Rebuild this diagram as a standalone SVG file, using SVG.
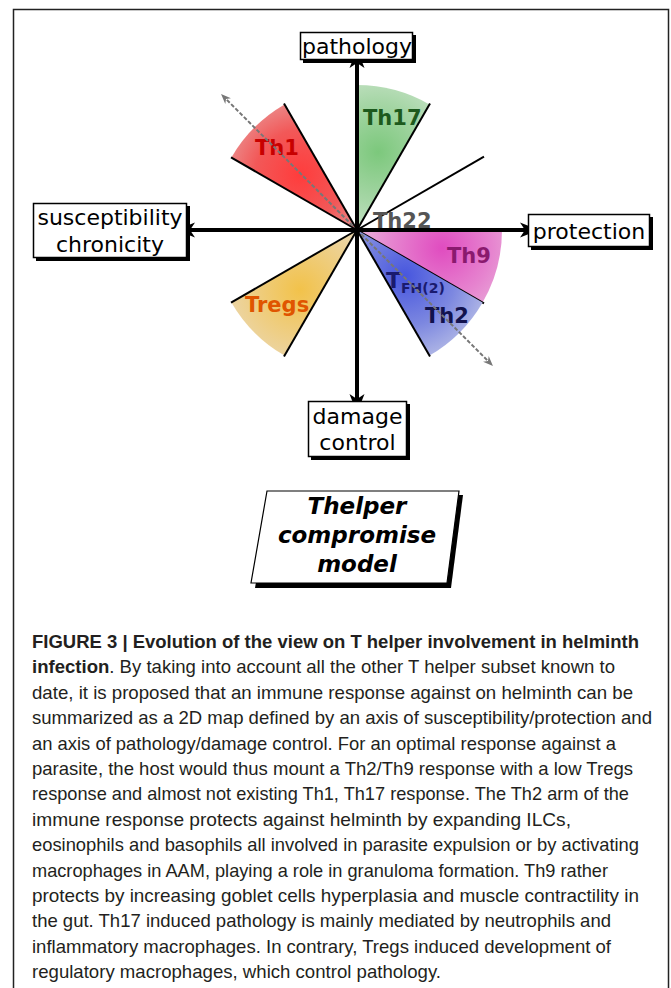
<svg xmlns="http://www.w3.org/2000/svg" width="671" height="988" viewBox="0 0 671 988">
<style>
.lbl{font-family:"DejaVu Sans",Verdana,sans-serif;font-size:22px;fill:#000;text-anchor:middle}
.box{fill:#fff;stroke:#000;stroke-width:1.5}
.shadow{fill:#000}
.sub{font-family:"DejaVu Sans",Verdana,sans-serif;font-weight:bold}
.edge{stroke:#000;stroke-width:2;fill:none}
.axis{stroke:#000;stroke-width:4;fill:none;marker-end:url(#bigArrow)}
.dash{stroke:#777;stroke-width:2;stroke-dasharray:4 2;fill:none;marker-end:url(#grayArrow)}
.cap{font-family:"Liberation Sans",Arial,sans-serif;font-size:18.5px;fill:#231f20}
.capb{font-weight:bold}
.model{font-family:"DejaVu Sans",Verdana,sans-serif;font-size:23px;font-weight:bold;font-style:italic;text-anchor:middle;fill:#000}
</style>
<defs>
<marker id="bigArrow" viewBox="-20 -9 22 18" refX="-14" refY="0" markerWidth="22" markerHeight="18" markerUnits="userSpaceOnUse" orient="auto">
<path d="M0,0 L-19,-7.5 L-14,0 L-19,7.5 Z" fill="#000"/>
</marker>
<marker id="grayArrow" viewBox="-12 -6 14 12" refX="-7" refY="0" markerWidth="14" markerHeight="12" markerUnits="userSpaceOnUse" orient="auto">
<path d="M0,0 L-10,-4 L-7,0 L-10,4 Z" fill="#777"/>
</marker>
<radialGradient id="gTh1" gradientUnits="userSpaceOnUse" cx="300" cy="175" r="100">
<stop offset="0" stop-color="#ff3c3c"/><stop offset="0.45" stop-color="#f25858"/><stop offset="1" stop-color="#e6b4b4"/>
</radialGradient>
<radialGradient id="gTh17" gradientUnits="userSpaceOnUse" cx="378" cy="152" r="100">
<stop offset="0" stop-color="#7cc87c"/><stop offset="0.5" stop-color="#a6d6a6"/><stop offset="1" stop-color="#d9ead9"/>
</radialGradient>
<radialGradient id="gTh9" gradientUnits="userSpaceOnUse" cx="442" cy="248" r="100">
<stop offset="0" stop-color="#e04cc0"/><stop offset="0.5" stop-color="#e684cf"/><stop offset="1" stop-color="#ebc6e0"/>
</radialGradient>
<radialGradient id="gTh2" gradientUnits="userSpaceOnUse" cx="405" cy="276" r="100">
<stop offset="0" stop-color="#4756de"/><stop offset="0.5" stop-color="#7c87e0"/><stop offset="1" stop-color="#c6cbe8"/>
</radialGradient>
<radialGradient id="gTregs" gradientUnits="userSpaceOnUse" cx="300" cy="290" r="100">
<stop offset="0" stop-color="#f2c24a"/><stop offset="0.5" stop-color="#eecf88"/><stop offset="1" stop-color="#e8ddcc"/>
</radialGradient>
</defs>

<rect x="13.5" y="9.5" width="655" height="1000" fill="#fff" stroke="#222" stroke-width="1.5"/>

<g id="sector-th17">
<path d="M357,230 L357,85 A145,145 0 0,1 429.5,104.4 Z" fill="url(#gTh17)"/>
<line class="edge" x1="357" y1="230" x2="430" y2="103.5"/>
<text class="sub" x="363" y="125" font-size="21" fill="#1d5a1d">Th17</text>
</g>
<g id="sector-th1">
<path d="M357,230 L284.5,104.4 A145,145 0 0,0 231.4,157.5 Z" fill="url(#gTh1)"/>
<line class="edge" x1="357" y1="230" x2="284" y2="103.5"/>
<line class="edge" x1="357" y1="230" x2="231" y2="157.3"/>
<text class="sub" x="255" y="155" font-size="21" fill="#c80000">Th1</text>
</g>
<g id="th22">
<line class="edge" x1="357" y1="230" x2="484" y2="156.7"/>
<text class="sub" x="373" y="228" font-size="21" fill="#555">Th22</text>
</g>
<g id="sector-th9">
<path d="M357,230 L502,230 A145,145 0 0,1 482.6,302.5 Z" fill="url(#gTh9)"/>
<line class="edge" x1="357" y1="230" x2="484" y2="303.3"/>
<text class="sub" x="447" y="263" font-size="21" fill="#8a1a6e">Th9</text>
</g>
<g id="sector-th2">
<path d="M357,230 L482.6,302.5 A145,145 0 0,1 429.5,355.6 Z" fill="url(#gTh2)"/>
<line class="edge" x1="357" y1="230" x2="430" y2="356.4"/>
<text class="sub" x="386" y="288" font-size="22" fill="#1a1a6e">T<tspan font-size="14" dy="5">FH(2)</tspan></text>
<text class="sub" x="425" y="323" font-size="21" fill="#12124e">Th2</text>
</g>
<g id="sector-tregs">
<path d="M357,230 L231.4,302.5 A145,145 0 0,0 284.5,355.6 Z" fill="url(#gTregs)"/>
<line class="edge" x1="357" y1="230" x2="231" y2="302.7"/>
<line class="edge" x1="357" y1="230" x2="284" y2="356.4"/>
<text class="sub" x="245" y="312" font-size="21" fill="#e05500">Tregs</text>
</g>

<g id="connectors">
<line class="dash" x1="357" y1="230" x2="226" y2="99"/>
<line class="dash" x1="357" y1="230" x2="488" y2="361"/>
<line class="axis" x1="357" y1="230" x2="357" y2="63"/>
<line class="axis" x1="357" y1="230" x2="357" y2="399"/>
<line class="axis" x1="357" y1="230" x2="190" y2="230"/>
<line class="axis" x1="357" y1="230" x2="525" y2="230"/>
<circle cx="357" cy="230" r="3.5" fill="#000"/>
</g>

<g id="pathology">
<rect class="shadow" x="303" y="35" width="113" height="28"/>
<rect class="box" x="300.5" y="32.5" width="112" height="27"/>
<text class="lbl" x="357" y="54">pathology</text>
</g>
<g id="protection">
<rect class="shadow" x="531" y="217" width="122" height="33"/>
<rect class="box" x="528.5" y="214.5" width="121" height="32"/>
<text class="lbl" x="589" y="239">protection</text>
</g>
<g id="susceptibility">
<rect class="shadow" x="36" y="206" width="154" height="55"/>
<rect class="box" x="33.5" y="203.5" width="153" height="54"/>
<text class="lbl" x="110" y="225">susceptibility</text>
<text class="lbl" x="110" y="252">chronicity</text>
</g>
<g id="damage-control">
<rect class="shadow" x="311" y="404" width="99" height="56"/>
<rect class="box" x="308.5" y="401.5" width="98" height="55"/>
<text class="lbl" x="357.5" y="424">damage</text>
<text class="lbl" x="357.5" y="450">control</text>
</g>

<g id="model">
<path class="shadow" d="M271,495 L463,495 L451,588 L255,588 Z"/>
<path d="M267,491 L459,491 L447,583 L251,583 Z" fill="#fff" stroke="#000" stroke-width="1.2"/>
<text class="model" x="357" y="514">Thelper</text>
<text class="model" x="357" y="543">compromise</text>
<text class="model" x="357" y="572">model</text>
</g>

<g id="caption">
<text class="cap capb" x="32" y="648" textLength="607" lengthAdjust="spacingAndGlyphs">FIGURE 3 | Evolution of the view on T helper involvement in helminth</text>
<text class="cap" x="32" y="673.4" textLength="583" lengthAdjust="spacingAndGlyphs"><tspan class="capb">infection</tspan>. By taking into account all the other T helper subset known to</text>
<text class="cap" x="32" y="698.8" textLength="601" lengthAdjust="spacingAndGlyphs">date, it is proposed that an immune response against on helminth can be</text>
<text class="cap" x="32" y="724.2" textLength="620" lengthAdjust="spacingAndGlyphs">summarized as a 2D map defined by an axis of susceptibility/protection and</text>
<text class="cap" x="32" y="749.6" textLength="584" lengthAdjust="spacingAndGlyphs">an axis of pathology/damage control. For an optimal response against a</text>
<text class="cap" x="32" y="775" textLength="601" lengthAdjust="spacingAndGlyphs">parasite, the host would thus mount a Th2/Th9 response with a low Tregs</text>
<text class="cap" x="32" y="800.4" textLength="597" lengthAdjust="spacingAndGlyphs">response and almost not existing Th1, Th17 response. The Th2 arm of the</text>
<text class="cap" x="32" y="825.8" textLength="539" lengthAdjust="spacingAndGlyphs">immune response protects against helminth by expanding ILCs,</text>
<text class="cap" x="32" y="851.2" textLength="607" lengthAdjust="spacingAndGlyphs">eosinophils and basophils all involved in parasite expulsion or by activating</text>
<text class="cap" x="32" y="876.6" textLength="576" lengthAdjust="spacingAndGlyphs">macrophages in AAM, playing a role in granuloma formation. Th9 rather</text>
<text class="cap" x="32" y="902" textLength="607" lengthAdjust="spacingAndGlyphs">protects by increasing goblet cells hyperplasia and muscle contractility in</text>
<text class="cap" x="32" y="927.4" textLength="579" lengthAdjust="spacingAndGlyphs">the gut. Th17 induced pathology is mainly mediated by neutrophils and</text>
<text class="cap" x="32" y="952.8" textLength="579" lengthAdjust="spacingAndGlyphs">inflammatory macrophages. In contrary, Tregs induced development of</text>
<text class="cap" x="32" y="978.2" textLength="409" lengthAdjust="spacingAndGlyphs">regulatory macrophages, which control pathology.</text>
</g>
</svg>
